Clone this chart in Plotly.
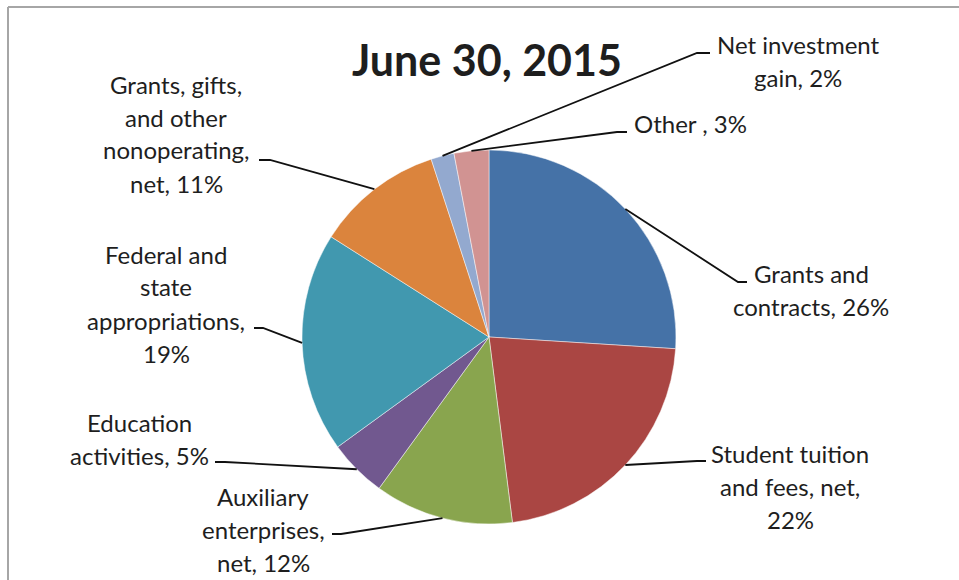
import math
import plotly.graph_objects as go

# ---------------- data ----------------
categories = [
    "Grants and contracts",
    "Student tuition and fees, net",
    "Auxiliary enterprises, net",
    "Education activities",
    "Federal and state appropriations",
    "Grants, gifts, and other nonoperating, net",
    "Net investment gain",
    "Other ",
]
values = [26, 22, 12, 5, 19, 11, 2, 3]
title_text = "June 30, 2015"

# ---------------- styling / layout ----------------
colors = ["#4572A7", "#AA4643", "#89A54E", "#71588F",
          "#4198AF", "#DB843D", "#93A9CF", "#D19392"]
W, H = 959, 580
CX, CY, R = 489, 337, 187          # pie centre / radius in pixels
FONT = "Lato"
TXT = "#1e1e1e"
FS = 24
LINE_H = 33

# words per line in each label
label_breaks = [[2, 2], [2, 3, 1], [1, 1, 2], [1, 2], [2, 1, 1, 1], [2, 2, 1, 2], [2, 2], [3]]
# centre x of label block, y of first line (pixels)
label_pos = [(811, 273), (790, 453), (263, 496), (139, 422), (166, 254), (176, 84), (798, 44), (632, 123)]
label_align = ["center"] * 8
label_align[7] = "left"
# leader line bend + end points (pixels)
leader_pts = [
    ((738, 282), (747, 282)),
    ((697, 461), (706, 461)),
    ((341, 534), (332, 534)),
    ((225, 462), (215, 462)),
    ((263, 328), (254, 328)),
    ((270, 160), (259, 160)),
    ((697, 53), (710, 53)),
    ((617, 132), (627, 132)),
]


def px(x):
    return x / W


def py(y):
    return 1 - y / H


fig = go.Figure()
fig.add_trace(go.Pie(
    labels=categories,
    values=values,
    sort=False,
    direction="clockwise",
    rotation=0,
    marker=dict(colors=colors, line=dict(color="rgba(255,255,255,0.6)", width=0.8)),
    textinfo="none",
    hoverinfo="label+percent",
    showlegend=False,
    domain=dict(x=[px(CX - R), px(CX + R)], y=[py(CY + R), py(CY - R)]),
))

shapes = []
annotations = []
total = sum(values)
cum = 0
for i, (cat, v) in enumerate(zip(categories, values)):
    mid = (cum + v / 2) / total * 2 * math.pi
    cum += v
    sx = CX + R * math.sin(mid)
    sy = CY - R * math.cos(mid)
    (bx, by), (ex, ey) = leader_pts[i]
    shapes.append(dict(
        type="path", xref="paper", yref="paper",
        path=f"M {px(sx)} {py(sy)} L {px(bx)} {py(by)} L {px(ex)} {py(ey)}",
        line=dict(color="#111111", width=1.8),
    ))
    words = f"{cat}, {v}%".split()
    idx = 0
    lx, ly = label_pos[i]
    for j, n in enumerate(label_breaks[i]):
        line = " ".join(words[idx:idx + n])
        idx += n
        annotations.append(dict(
            x=px(lx), y=py(ly + j * LINE_H), xref="paper", yref="paper",
            text=line, showarrow=False,
            xanchor="left" if label_align[i] == "left" else "center",
            yanchor="middle",
            font=dict(family=FONT, size=FS, color=TXT),
        ))

# frame lines (top and left)
shapes.append(dict(type="line", xref="paper", yref="paper",
                   x0=px(8), y0=py(7), x1=1, y1=py(7),
                   line=dict(color="#a6a6a6", width=2)))
shapes.append(dict(type="line", xref="paper", yref="paper",
                   x0=px(8), y0=py(7), x1=px(8), y1=0,
                   line=dict(color="#a6a6a6", width=2)))

annotations.append(dict(
    x=px(487), y=py(60), xref="paper", yref="paper",
    text=f"<b>{title_text}</b>", showarrow=False,
    xanchor="center", yanchor="middle",
    font=dict(family=FONT, size=43, color=TXT),
))

fig.update_layout(
    width=W, height=H,
    margin=dict(l=0, r=0, t=0, b=0),
    paper_bgcolor="white", plot_bgcolor="white",
    shapes=shapes, annotations=annotations,
    showlegend=False,
)

fig.write_html(
    "out.html",
    config={"displayModeBar": False},
    post_script="document.body.style.margin='0px';document.body.style.overflow='hidden';",
)
